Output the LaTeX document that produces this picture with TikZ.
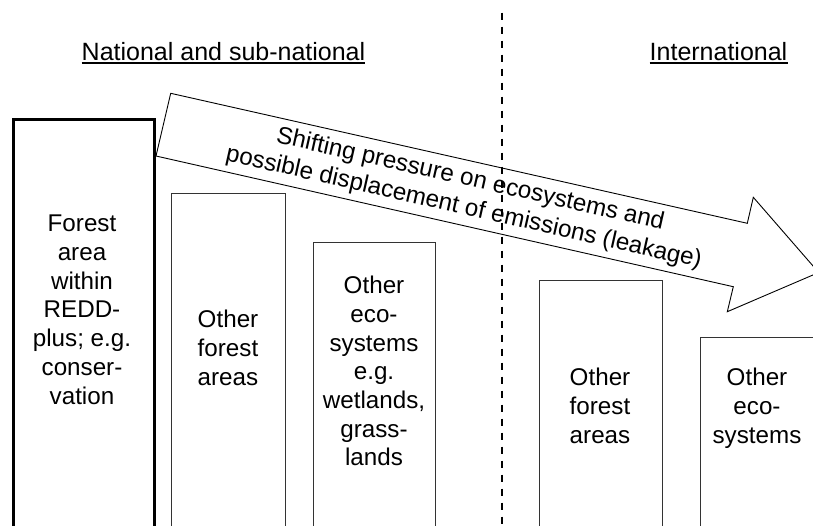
\documentclass[tikz,border=0pt]{standalone}
\usepackage{fontspec}
\setmainfont{Liberation Sans}
\tikzstyle{areabox}=[draw=black!80,line width=0.8pt,anchor=north west,inner sep=0pt]
\tikzstyle{reddbox}=[draw=black,line width=3pt,anchor=north west,inner sep=0pt]
\tikzstyle{boxtext}=[font=\fontsize{24.2}{28.7}\selectfont,align=center,anchor=north,inner sep=0pt]
\tikzstyle{scaletitle}=[font=\fontsize{25}{28.7}\selectfont,anchor=base,inner sep=0pt,text depth=0pt]
\tikzstyle{shiftarrow}=[draw=black,line width=0.9pt,fill=white,line join=miter]
\tikzstyle{divider}=[line width=1.8pt,dash pattern=on 7pt off 7pt]

\begin{document}
\begin{tikzpicture}[x=1pt,y=-1pt]
    \useasboundingbox (0,0) rectangle (813,525);
    % areas
    \node[reddbox, minimum width=141, minimum height=430] (redd) at (11.5,117.5) {};
    \foreach \name/\x/\y/\w in {otherforest/171/193/114,othereco/313/242/122,intforest/539/280/123,inteco/700/337/120}
    \node[areabox, minimum width=\w, minimum height=560-\y] (\name) at (\x,\y) {};

    \node[boxtext] (reddtext) at (82,215) {Forest\\area\\within\\REDD-\\plus; e.g.\\conser-\\vation};
    \node[boxtext] (otherforesttext) at (228,310) {Other\\forest\\areas};
    \node[boxtext] (otherecotext) at (374,276) {Other\\eco-\\systems\\e.g.\\wetlands,\\grass-\\lands};
    \node[boxtext] (intforesttext) at (600,368) {Other\\forest\\areas};
    \node[boxtext] (intecotext) at (757,368) {Other\\eco-\\systems};

    % leakage arrow
    \draw[shiftarrow] (170.7,93.3) -- (747.3,223.3) -- (753.3,197.3) -- (818.7,272.5)
        -- (727.3,311.7) -- (733.3,286.7) -- (156,156) -- cycle;
    \node[boxtext, anchor=center, rotate=-12.73] (leakage) at (467,194)
        {Shifting pressure on ecosystems and\\possible displacement of emissions (leakage)};

    % scales
    \node[scaletitle] (national) at (223.5,60) {National and sub-national};
    \node[scaletitle] (international) at (718.5,60) {International};
    \draw[line width=1.6pt] ([yshift=-3pt]national.south west) -- ([yshift=-3pt]national.south east);
    \draw[line width=1.6pt] ([yshift=-3pt]international.south west) -- ([yshift=-3pt]international.south east);

    \coordinate (divtop) at (501.7,12.7);
    \coordinate (divbot) at (501.7,530);
    \draw[divider] (divtop) -- (divbot);
\end{tikzpicture}
\end{document}
